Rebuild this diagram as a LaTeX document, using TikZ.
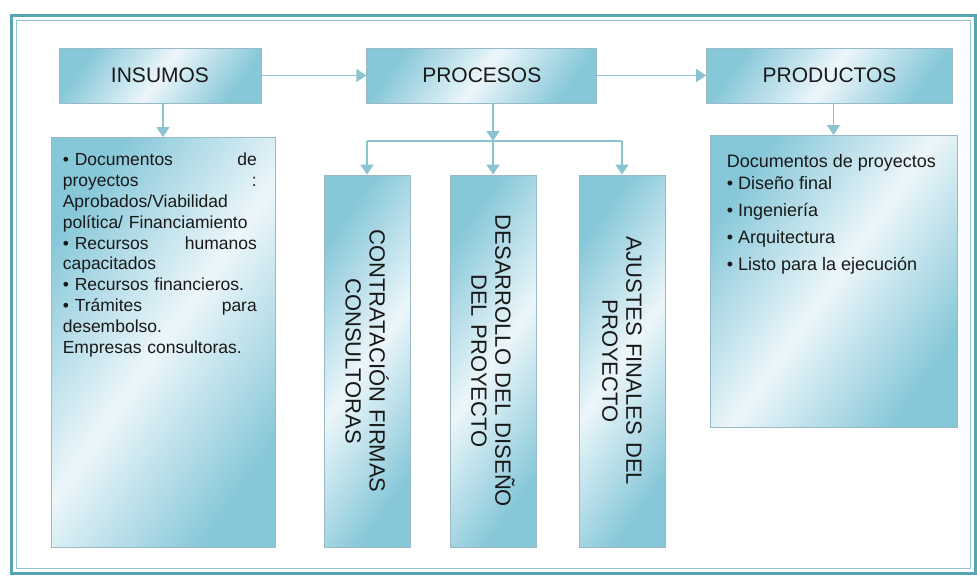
\documentclass[tikz,border=0pt]{standalone}
\usepackage{fontspec}
\setmainfont{Liberation Sans}
\usetikzlibrary{positioning, arrows.meta}
\definecolor{framecol}{RGB}{86,165,181}
\definecolor{boxdark}{RGB}{134,199,216}
\definecolor{boxlight}{RGB}{236,246,250}
\definecolor{boxline}{RGB}{152,186,198}
\definecolor{arrowcol}{RGB}{140,195,209}
\definecolor{inkcol}{RGB}{25,25,25}
\tikzset{
  >={Triangle[width=13pt,length=10pt]},
  every box/.style={draw=boxline, line width=0.8pt, text=inkcol,
    top color=boxdark, bottom color=boxdark, middle color=boxlight, shading angle=55},
  titlebox/.style={every box, minimum height=55pt, inner sep=0pt,
    font=\fontsize{21}{24}\selectfont},
  bodybox/.style={every box, inner sep=0pt},
  stepbox/.style={every box, rotate=-90, minimum width=372pt, minimum height=86pt,
    inner sep=0pt, text width=340pt, align=center, font=\fontsize{22}{24}\selectfont},
  itemtext/.style={anchor=north west, inner sep=0pt, text=inkcol, align=left},
  link/.style={->, draw=arrowcol, line width=1.6pt},
  branch/.style={draw=arrowcol, line width=1.6pt},
}
\begin{document}
\begin{tikzpicture}[x=1pt, y=-1pt]
  \useasboundingbox (0,0) rectangle (977,576);
  % frame
  \draw[framecol, line width=3pt] (11,15) rectangle (975,573);
  \draw[framecol!65, line width=0.8pt] (16,20) rectangle (970,568);

  % top row
  \node[titlebox, minimum width=202pt] (insumos) at (160,75.5) {INSUMOS};
  \node[titlebox, minimum width=230pt, right=105pt of insumos] (procesos) {PROCESOS};
  \node[titlebox, minimum width=246pt, right=109pt of procesos] (productos) {PRODUCTOS};

  % boxes
  \node[bodybox, minimum width=224pt, minimum height=410pt, anchor=north] (insumosbox) at (163,137) {};
  \node[itemtext, text width=194pt, font=\fontsize{17.5}{20.8}\selectfont]
    (insumostext) at ([xshift=12pt, yshift=-16pt]insumosbox.north west)
    {\textbullet~Documentos\hfill de\\
     proyectos\hfill :\\
     Aprobados/Viabilidad\\
     política/ Financiamiento\\
     \textbullet~Recursos\hfill humanos\\
     capacitados\\
     \textbullet~Recursos financieros.\\
     \textbullet~Trámites\hfill para\\
     desembolso.\\
     Empresas consultoras.};

  \node[stepbox] (contratacion) at (367,361) {CONTRATACIÓN FIRMAS\\ CONSULTORAS};
  \node[stepbox] (desarrollo) at (493,361) {DESARROLLO DEL DISEÑO\\ DEL PROYECTO};
  \node[stepbox] (ajustes) at (622,361) {AJUSTES FINALES DEL\\ PROYECTO};

  \node[bodybox, minimum width=247pt, minimum height=292pt, anchor=north] (productosbox) at (833.5,135) {};
  \node[itemtext, font=\fontsize{18}{22}\selectfont]
    (productostext) at ([xshift=17pt, yshift=-19pt]productosbox.north west)
    {Documentos de proyectos\\
     \textbullet~Diseño final\\[5pt]
     \textbullet~Ingeniería\\[5pt]
     \textbullet~Arquitectura\\[5pt]
     \textbullet~Listo para la ejecución};

  % arrows
  \coordinate (split) at (desarrollo |- 0,141);
  \draw[link] (insumos) -- (procesos);
  \draw[link] (procesos) -- (productos);
  \draw[link] (insumosbox.north |- insumos.south) -- (insumosbox.north);
  \draw[link] (productosbox.north |- productos.south) -- (productosbox.north);
  \draw[link] (split |- procesos.south) -- (split);
  \draw[branch] (contratacion |- split) -- (ajustes |- split);
  \draw[link] (split) -- (desarrollo);
  \draw[link] (contratacion |- split) -- (contratacion);
  \draw[link] (ajustes |- split) -- (ajustes);
\end{tikzpicture}
\end{document}
